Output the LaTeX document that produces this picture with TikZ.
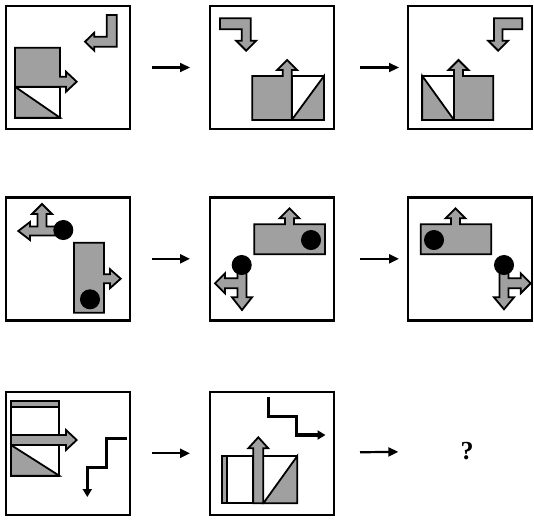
\documentclass[tikz,border=0pt]{standalone}
\usepackage{fontspec}
\setmainfont{Liberation Serif}
\usetikzlibrary{arrows.meta}
\definecolor{figgray}{RGB}{160,160,160}
\tikzset{
  panel/.style={draw, line width=2.6pt, minimum width=124pt, minimum height=123pt, inner sep=0pt, outer sep=0pt},
  shp/.style={draw, line width=1.8pt, fill=figgray, line join=miter},
  wshp/.style={shp, fill=white},
  dot/.style={fill=black, draw=black, line width=1pt},
  stair/.style={line width=3.3pt, line join=miter, -{Triangle[length=8pt,width=9pt]}},
  link/.style={line width=2.2pt, -{Triangle[length=10pt,width=9pt]}},
  qmark/.style={font=\bfseries\fontsize{26}{26}\selectfont, inner sep=0pt}
}
\begin{document}
\begin{tikzpicture}[x=1pt,y=-1pt]
\useasboundingbox (0,0) rectangle (534,520);
% panels
\node[panel] (p1) at (68,67.5) {};
\node[panel] (p2) at (272,67.5) {};
\node[panel] (p3) at (470,67.5) {};
\node[panel] (p4) at (68,258.8) {};
\node[panel] (p5) at (272,258.8) {};
\node[panel] (p6) at (470,258.8) {};
\node[panel] (p7) at (68,453.3) {};
\node[panel] (p8) at (272,453.3) {};
\node[qmark] (q) at (467,451) {?};
% connectors
\draw[link, shorten <=22pt, shorten >=20pt] (p1) -- (p2);
\draw[link, shorten <=26pt, shorten >=9pt] (p2) -- (p3);
\draw[link, shorten <=22pt, shorten >=20pt] (p4) -- (p5);
\draw[link, shorten <=26pt, shorten >=9pt] (p5) -- (p6);
\draw[link, shorten <=22pt, shorten >=20pt] (p7) -- (p8);
\draw[link, shorten <=26pt, shorten >=62pt] (p8) -- (q);

% ---- panel 1
\draw[shp] (15,47.7) -- (60,47.7) -- (60,76.7) -- (66,76.7) -- (66,71.7) -- (76.7,81.7) -- (66,91.7) -- (66,86.7) -- (15,86.7) -- cycle;
\draw[wshp] (15,86.7) rectangle (60,117.7);
\draw[shp] (15,86.7) -- (60,117.7) -- (15,117.7) -- cycle;
\draw[shp] (116.7,15) -- (116.7,46.7) -- (94.3,46.7) -- (94.3,50.7) -- (85,41.7) -- (94.3,32.7) -- (94.3,36.7) -- (106.7,36.7) -- (106.7,15) -- cycle;

% ---- panel 2
\draw[shp] (220,18.3) -- (250.7,18.3) -- (250.7,40.7) -- (256.2,40.7) -- (246.2,50.7) -- (236.2,40.7) -- (241.7,40.7) -- (241.7,29.3) -- (220,29.3) -- cycle;
\draw[shp] (252.3,120) -- (252.3,76) -- (282.7,76) -- (282.7,70) -- (277.2,70) -- (287.2,60) -- (297.2,70) -- (291.7,70) -- (291.7,120) -- cycle;
\draw[wshp] (291.7,76) rectangle (324,120);
\draw[shp] (291.7,120) -- (324,76) -- (324,120) -- cycle;

% ---- panel 3
\draw[shp] (522.3,18.3) -- (494,18.3) -- (494,40.7) -- (488.2,40.7) -- (498.2,50.7) -- (508.2,40.7) -- (502.5,40.7) -- (502.5,29.3) -- (522.3,29.3) -- cycle;
\draw[wshp] (422.3,76) rectangle (454,120);
\draw[shp] (422.3,76) -- (422.3,120) -- (454,120) -- cycle;
\draw[shp] (454,120) -- (454,70) -- (448.5,70) -- (458.5,60) -- (468.5,70) -- (463,70) -- (463,76) -- (493.3,76) -- (493.3,120) -- cycle;

% ---- panel 4
\draw[shp] (74,242.7) -- (104,242.7) -- (104,274.2) -- (110,274.2) -- (110,269.2) -- (120.7,278.7) -- (110,288.2) -- (110,283.2) -- (104,283.2) -- (104,312.7) -- (74,312.7) -- cycle;
\draw[dot] (90,299.3) circle (9.5);
\draw[shp] (63,226.5) -- (46.5,226.5) -- (46.5,214) -- (52,214) -- (42,204) -- (32,214) -- (37.5,214) -- (37.5,226.5) -- (30,226.5) -- (30,222) -- (18.3,231) -- (30,240) -- (30,235.5) -- (63,235.5) -- cycle;
\draw[dot] (63.3,230) circle (9.5);

% ---- panel 5
\draw[shp] (254.3,254.3) -- (254.3,224.3) -- (285,224.3) -- (285,218.3) -- (279.5,218.3) -- (289.5,208.3) -- (299.5,218.3) -- (294,218.3) -- (294,224.3) -- (325,224.3) -- (325,254.3) -- cycle;
\draw[dot] (311,240) circle (9.5);
\draw[shp] (237.5,265) -- (246.5,265) -- (246.5,297.3) -- (252,297.3) -- (242,310) -- (232,297.3) -- (237.5,297.3) -- (237.5,288.3) -- (225,288.3) -- (225,293.3) -- (215,283.3) -- (225,273.3) -- (225,278.3) -- (237.5,278.3) -- cycle;
\draw[dot] (241.7,265) circle (9.5);

% ---- panel 6
\draw[shp] (420.7,254.3) -- (420.7,224.3) -- (451,224.3) -- (451,218.3) -- (445.5,218.3) -- (455.5,208.3) -- (465.5,218.3) -- (460,218.3) -- (460,224.3) -- (491.3,224.3) -- (491.3,254.3) -- cycle;
\draw[dot] (434,240) circle (9.5);
\draw[shp] (499.5,265) -- (508.5,265) -- (508.5,278.3) -- (520.7,278.3) -- (520.7,273.3) -- (530.7,283.3) -- (520.7,293.3) -- (520.7,288.3) -- (508.5,288.3) -- (508.5,297.3) -- (514,297.3) -- (504,309.3) -- (494,297.3) -- (499.5,297.3) -- cycle;
\draw[dot] (504,265) circle (9.5);

% ---- panel 7
\draw[shp] (11,401) rectangle (59.3,406.7);
\draw[wshp] (11,406.7) rectangle (59.3,435);
\draw[wshp] (11,445) rectangle (59.3,475.7);
\draw[shp] (11,445) -- (59.3,475.7) -- (11,475.7) -- cycle;
\draw[shp] (11,435) -- (66,435) -- (66,430) -- (76.7,440) -- (66,450) -- (66,445) -- (11,445) -- cycle;
\coordinate (s7a) at (126.7,438.3);
\coordinate (s7b) at (87.3,497);
\draw[stair] (s7a) -- (106.7,438.3) -- (106.7,467.7) -- (87.3,467.7) -- (s7b);

% ---- panel 8
\draw[shp] (221.7,456) rectangle (227.3,503.3);
\draw[wshp] (227.3,456) rectangle (253.3,503.3);
\draw[wshp] (263.3,456) rectangle (297.3,503.3);
\draw[shp] (263.3,503.3) -- (297.3,456) -- (297.3,503.3) -- cycle;
\draw[shp] (253.3,503.3) -- (253.3,448.3) -- (248.3,448.3) -- (258.3,437.3) -- (268.3,448.3) -- (263.3,448.3) -- (263.3,503.3) -- cycle;
\coordinate (s8a) at (268.3,396.7);
\coordinate (s8b) at (325.5,435);
\draw[stair] (s8a) -- (268.3,416.7) -- (296.7,416.7) -- (296.7,435) -- (s8b);
\end{tikzpicture}
\end{document}
